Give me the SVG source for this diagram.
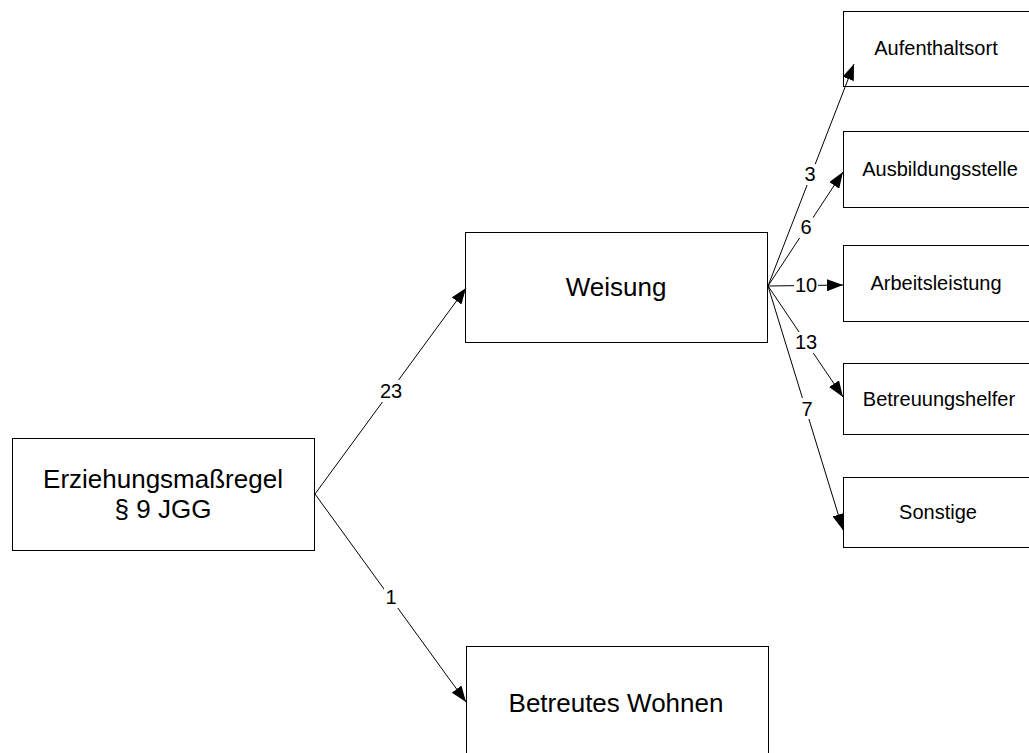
<svg xmlns="http://www.w3.org/2000/svg" width="1029" height="753" viewBox="0 0 1029 753">
<style>
.box{fill:#fff;stroke:#000;stroke-width:1}
.big{font-family:"Liberation Sans",Arial,sans-serif;font-size:26px;fill:#000;text-anchor:middle}
.small{font-family:"Liberation Sans",Arial,sans-serif;font-size:20px;fill:#000;text-anchor:middle}
.lbl{font-family:"Liberation Sans",Arial,sans-serif;font-size:20px;fill:#000;text-anchor:middle;dominant-baseline:central}
.edge{stroke:#000;stroke-width:1;fill:none;marker-end:url(#arr)}
.bg{fill:#fff}
</style>
<defs>
<marker id="arr" markerUnits="userSpaceOnUse" markerWidth="16" markerHeight="12" viewBox="0 0 16 12" refX="16" refY="6" orient="auto">
<path d="M0,0 L16,6 L0,12 z" fill="#000"/>
</marker>
</defs>
<rect width="1029" height="753" fill="#fff"/>
<g id="erziehung">
<rect class="box" x="12.5" y="438.5" width="302" height="112"/>
<text class="big" x="163" y="488">Erziehungsmaßregel</text>
<text class="big" x="163" y="518">§ 9 JGG</text>
</g>
<g id="weisung">
<rect class="box" x="465.5" y="232.5" width="302" height="110"/>
<text class="big" x="616" y="296">Weisung</text>
</g>
<g id="betreutes">
<rect class="box" x="466.5" y="646.5" width="302" height="114"/>
<text class="big" x="616" y="712">Betreutes Wohnen</text>
</g>
<g id="aufenthaltsort">
<rect class="box" x="843.5" y="11.5" width="200" height="75"/>
<text class="small" x="936" y="55">Aufenthaltsort</text>
</g>
<g id="ausbildungsstelle">
<rect class="box" x="843.5" y="131.5" width="200" height="76"/>
<text class="small" x="940" y="176">Ausbildungsstelle</text>
</g>
<g id="arbeitsleistung">
<rect class="box" x="843.5" y="245.5" width="200" height="76"/>
<text class="small" x="936" y="290">Arbeitsleistung</text>
</g>
<g id="betreuungshelfer">
<rect class="box" x="843.5" y="363.5" width="200" height="71"/>
<text class="small" x="939" y="406">Betreuungshelfer</text>
</g>
<g id="sonstige">
<rect class="box" x="843.5" y="477.5" width="200" height="70"/>
<text class="small" x="938" y="519">Sonstige</text>
</g>
<g id="connectors">
<line class="edge" x1="315" y1="494" x2="466" y2="288"/>
<line class="edge" x1="315" y1="494" x2="466" y2="702"/>
<line class="edge" x1="768" y1="286" x2="854" y2="64"/>
<line class="edge" x1="768" y1="286" x2="843" y2="172"/>
<line class="edge" x1="768" y1="286" x2="843" y2="285"/>
<line class="edge" x1="768" y1="286" x2="843" y2="397"/>
<line class="edge" x1="768" y1="286" x2="843" y2="530"/>
<rect class="bg" x="379" y="380" width="24" height="22"/>
<text class="lbl" x="391" y="391">23</text>
<rect class="bg" x="384" y="586" width="14" height="22"/>
<text class="lbl" x="391" y="597">1</text>
<rect class="bg" x="803" y="164" width="14" height="21"/>
<text class="lbl" x="810" y="174">3</text>
<rect class="bg" x="799" y="217" width="14" height="21"/>
<text class="lbl" x="806" y="227">6</text>
<rect class="bg" x="794" y="275" width="24" height="21"/>
<text class="lbl" x="806" y="285">10</text>
<rect class="bg" x="794" y="332" width="24" height="21"/>
<text class="lbl" x="806" y="342">13</text>
<rect class="bg" x="800" y="398" width="14" height="21"/>
<text class="lbl" x="807" y="409">7</text>
</g>
</svg>
